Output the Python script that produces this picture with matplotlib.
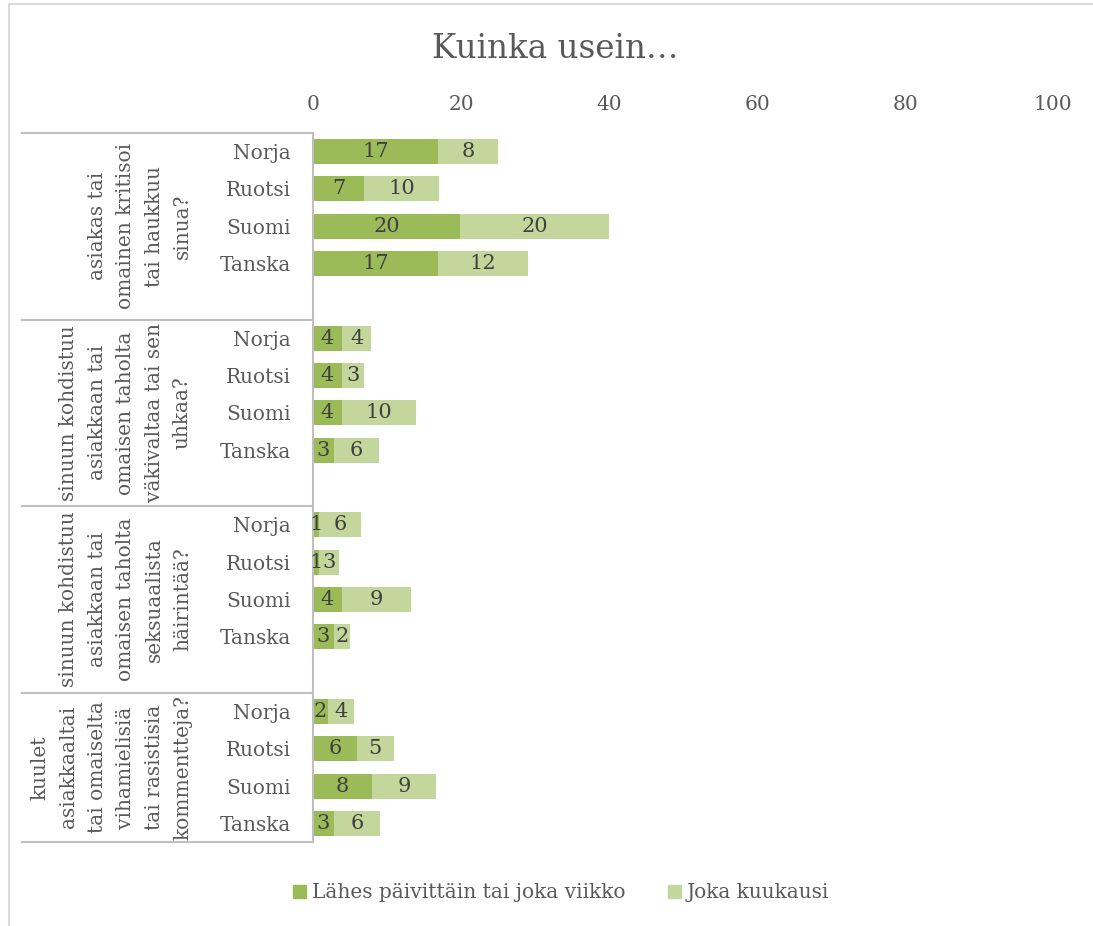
import numpy as np
import matplotlib
matplotlib.use("Agg")
import matplotlib.pyplot as plt
from matplotlib.patches import Patch
from matplotlib.lines import Line2D
from matplotlib.transforms import blended_transform_factory

W, H = 1093, 926

# data
countries = ["Norja", "Ruotsi", "Suomi", "Tanska"]
questions = [
    "asiakas tai\nomainen kritisoi\ntai haukkuu\nsinua?",
    "sinuun kohdistuu\nasiakkaan tai\nomaisen taholta\nväkivaltaa tai sen\nuhkaa?",
    "sinuun kohdistuu\nasiakkaan tai\nomaisen taholta\nseksuaalista\nhäirintää?",
    "kuulet\nasiakkaaltai\ntai omaiselta\nvihamielisiä\ntai rasistisia\nkommentteja?",
]
weekly = [[16.9, 6.9, 19.9, 16.9],
          [3.9, 3.9, 3.9, 2.8],
          [0.8, 0.8, 3.9, 2.8],
          [2.0, 5.9, 8.0, 2.8]]
monthly = [[8.1, 10.1, 20.1, 12.1],
           [4.0, 3.0, 10.0, 6.1],
           [5.7, 2.7, 9.4, 2.2],
           [3.6, 5.0, 8.6, 6.3]]
series_names = ["Lähes päivittäin tai joka viikko", "Joka kuukausi"]
xticks = [0, 20, 40, 60, 80, 100]

c_week = "#9BBB59"
c_month = "#C3D69B"
txt = "#595959"
lab = "#404040"
plt.rcParams["font.family"] = ["DejaVu Serif"]

fig = plt.figure(figsize=(W / 100, H / 100), dpi=100)
ax = fig.add_axes([313 / W, 1 - 842 / H, (1053 - 313) / W, (842 - 133) / H])

# one empty slot between groups
pos, ylabels = [], []
for g in range(len(questions)):
    for r in range(len(countries)):
        pos.append(g * 5 + r)
        ylabels.append(countries[r])
wk = np.array(weekly).ravel()
mo = np.array(monthly).ravel()

bh = 0.67
b1 = ax.barh(pos, wk, height=bh, color=c_week)
b2 = ax.barh(pos, mo, left=wk, height=bh, color=c_month)
for bars, vals in ((b1, wk), (b2, mo)):
    ax.bar_label(bars, labels=[f"{v:.0f}" for v in vals], label_type="center",
                 color=lab, fontsize=15)

ax.set_xlim(0, 100)
ax.set_ylim(18.5, -0.5)
ax.xaxis.tick_top()
ax.set_xticks(xticks)
ax.tick_params(axis="x", length=0, pad=14, labelsize=14.5, labelcolor=txt)
ax.set_yticks(pos, ylabels)
ax.tick_params(axis="y", length=0, pad=16, labelsize=14.5, labelcolor=txt)
for s in ("top", "right", "bottom"):
    ax.spines[s].set_visible(False)
ax.spines["left"].set_color("#BFBFBF")
ax.spines["left"].set_linewidth(1.5)

# category table lines and outer labels
tr = blended_transform_factory(fig.transFigure, ax.transData)
n = len(questions)
bounds = [-0.5] + [g * 5 + 4.5 for g in range(n - 1)] + [18.5]
for b in bounds:
    ax.plot([22 / W, 313 / W], [b, b], transform=tr, color="#BFBFBF",
            lw=1.5, clip_on=False)
for g, q in enumerate(questions):
    yc = (bounds[g] + bounds[g + 1]) / 2
    ax.text(192 / W, yc, q, transform=tr, rotation=90, ha="right", va="center",
            multialignment="center", fontsize=14.5, color=txt, linespacing=1.63)

fig.text(555 / W, 1 - 49 / H, "Kuinka usein…", ha="center", va="center",
         fontsize=23.5, color=txt)

# outer chart frame
fig.add_artist(Line2D([9 / W, 1], [1 - 4 / H, 1 - 4 / H], color="#D9D9D9", lw=1.5))
fig.add_artist(Line2D([9 / W, 9 / W], [0, 1 - 4 / H], color="#D9D9D9", lw=1.5))

handles = [Patch(color=c_week), Patch(color=c_month)]
fig.legend(handles, series_names, loc="center", bbox_to_anchor=(561 / W, 1 - 893 / H),
           ncol=2, frameon=False, fontsize=14.5, labelcolor=txt,
           handlelength=0.65, handleheight=0.65, handletextpad=0.3, columnspacing=2.1)

fig.savefig("out.png", dpi=100)
